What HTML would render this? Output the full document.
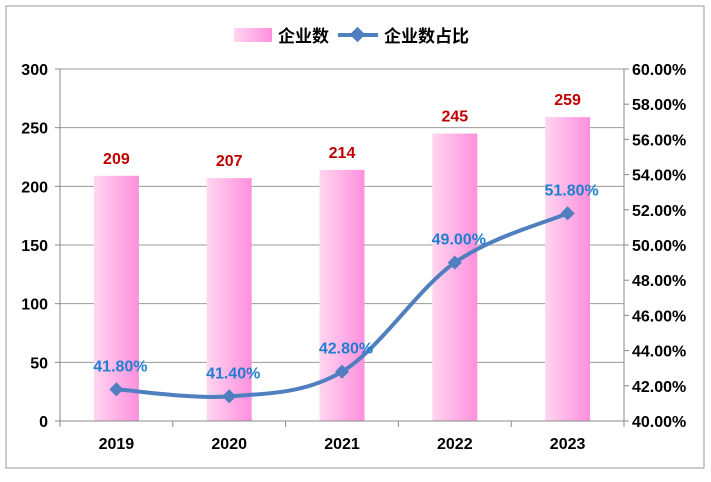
<!DOCTYPE html>
<html><head><meta charset="utf-8"><style>
body{margin:0;background:#fff;}
svg text{font-family:"Liberation Sans","Noto Sans CJK SC",sans-serif;}
</style></head><body>
<svg id="c" width="711" height="477" xmlns="http://www.w3.org/2000/svg">
<defs>
<linearGradient id="bg" x1="0" x2="1" y1="0" y2="0">
<stop offset="0" stop-color="#ffd6f0"/><stop offset="1" stop-color="#ff8fde"/>
</linearGradient>
</defs>
<rect x="6" y="6" width="698" height="462" fill="#fff" stroke="#999"/>
<g id="grid"></g><g id="bars"></g><g id="axes"></g><g id="line"></g>
<g>
<rect x="234" y="28" width="38" height="14" fill="url(#bg)"/>
<text x="278" y="42" font-size="17" font-weight="bold" fill="#000">企业数</text>
<line x1="338" y1="35" x2="378" y2="35" stroke="#4f7fbf" stroke-width="4"/>
<rect x="352" y="29" width="11" height="11" fill="#4f7fbf" transform="rotate(45 357.5 34.5)"/>
<text x="384" y="42" font-size="17" font-weight="bold" fill="#000">企业数占比</text>
</g>
</svg>
<script>
const categories=["2019","2020","2021","2022","2023"];
const counts=[209,207,214,245,259];
const shares=[41.8,41.4,42.8,49.0,51.8];
const leftTicks=[0,50,100,150,200,250,300];
const rightTicks=[40,42,44,46,48,50,52,54,56,58,60];
const NS="http://www.w3.org/2000/svg";
const X0=60,X1=624,Y0=421,Y1=69;
const bw=(X1-X0)/categories.length;
const xc=i=>X0+bw*(i+0.5);
const yl=v=>Y0-(v/300)*(Y0-Y1);
const yr=v=>Y0-((v-40)/20)*(Y0-Y1);
function mk(tag,attrs,parent,txt){const e=document.createElementNS(NS,tag);for(const k in attrs)e.setAttribute(k,attrs[k]);if(txt!==undefined)e.textContent=txt;document.getElementById(parent).appendChild(e);return e;}
leftTicks.forEach(t=>{
 if(t>0){const g=mk('line',{x1:X0,x2:X1,y1:yl(t),y2:yl(t),stroke:'#999','stroke-width':1},'grid');
 
 }
 const tk=mk('line',{x1:X0-5,x2:X0,y1:yl(t),y2:yl(t),stroke:'#888'},'axes');
 
 
 const l=mk('text',{x:X0-12,y:yl(t)+6,'text-anchor':'end','font-size':16,'font-weight':'bold'},'axes',t);
 
 
});
rightTicks.forEach(t=>{
 const tk=mk('line',{x1:X1,x2:X1+5,y1:yr(t),y2:yr(t),stroke:'#888'},'axes');
 
 
 const l=mk('text',{x:X1+8,y:yr(t)+6,'font-size':16,'font-weight':'bold'},'axes',t.toFixed(2)+'%');
 
 
});
[['line',{x1:X0,x2:X0,y1:Y1,y2:Y0,stroke:'#888'},'left-axis'],['line',{x1:X1,x2:X1,y1:Y1,y2:Y0,stroke:'#888'},'right-axis'],['line',{x1:X0,x2:X1,y1:Y0,y2:Y0,stroke:'#888'},'x-axis']].forEach(a=>{
 const e=mk(a[0],a[1],'axes');
 
 
});
for(let i=0;i<=categories.length;i++){
 const e=mk('line',{x1:X0+bw*i,x2:X0+bw*i,y1:Y0,y2:Y0+6,stroke:'#888'},'axes');
 
 
}
categories.forEach((c,i)=>{
 const l=mk('text',{x:xc(i),y:Y0+28,'text-anchor':'middle','font-size':16,'font-weight':'bold'},'axes',c);
 
 
 const b=mk('rect',{x:xc(i)-22.5,y:yl(counts[i]),width:45,height:Y0-yl(counts[i]),fill:'url(#bg)'},'bars');
 
 
 const v=mk('text',{x:xc(i),y:yl(counts[i])-12,'text-anchor':'middle','font-size':16,'font-weight':'bold',fill:'#c00000'},'bars',counts[i]);
 
 
});
const pts=shares.map((s,i)=>[xc(i),yr(s)]);
let d='M'+pts[0][0]+','+pts[0][1];
for(let i=0;i<pts.length-1;i++){
 const p0=pts[Math.max(0,i-1)],p1=pts[i],p2=pts[i+1],p3=pts[Math.min(pts.length-1,i+2)];
 const t=0.33;
 const c1=[p1[0]+(p2[0]-p0[0])*t/2,p1[1]+(p2[1]-p0[1])*t/2];
 const c2=[p2[0]-(p3[0]-p1[0])*t/2,p2[1]-(p3[1]-p1[1])*t/2];
 d+=' C'+c1+' '+c2+' '+p2;
}
const ln=mk('path',{d:d,fill:'none',stroke:'#4f7fbf','stroke-width':4},'line');


pts.forEach((p,i)=>{
 const m=mk('rect',{x:p[0]-5,y:p[1]-5,width:10,height:10,fill:'#4f7fbf',transform:`rotate(45 ${p[0]} ${p[1]})`},'line');
 
 
 const v=mk('text',{x:p[0]+4,y:p[1]-18,'text-anchor':'middle','font-size':16,'font-weight':'bold',fill:'#1f7fcf'},'line',shares[i].toFixed(2)+'%');
 
 
});
</script>
</body></html>
